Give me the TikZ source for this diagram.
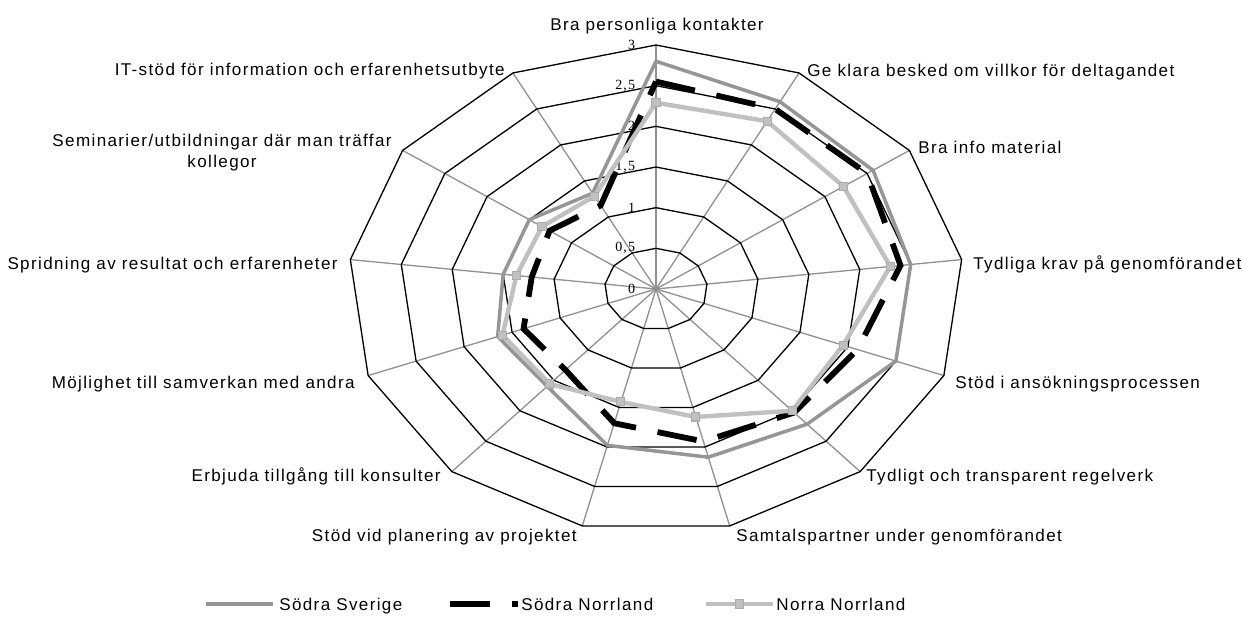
\documentclass[tikz,border=0pt]{standalone}
\usepackage{fontspec}
\setmainfont{Liberation Sans}[LetterSpace=8]
\newfontfamily\ticksfont{Liberation Serif}[LetterSpace=8]
\usetikzlibrary{positioning}
\definecolor{sydgray}{RGB}{150,150,150}
\definecolor{normlight}{RGB}{192,192,192}
\definecolor{spokegray}{RGB}{145,145,145}
\definecolor{markedge}{RGB}{172,172,172}
\tikzset{
  ring/.style={black,line width=0.75pt},
  spoke/.style={spokegray,line width=0.75pt},
  cat/.style={font=\fontsize{9.7}{11.9}\selectfont,inner sep=0pt},
  ticklbl/.style={font=\ticksfont\fontsize{8}{9}\selectfont,inner sep=0pt},
  sv/.style={sydgray,line width=2pt},
  sn/.style={black,line width=3.3pt,dash pattern=on 22.7pt off 12.5pt},
  nn/.style={normlight,line width=2.5pt},
  mk/.style={draw=markedge,fill=normlight,rectangle,minimum size=4.6pt,inner sep=0pt,line width=0.6pt},
}
\begin{document}
\begin{tikzpicture}[x=0.02cm,y=-0.02cm]
  \useasboundingbox (0,0) rectangle (1242,643);

  \begin{scope}[shift={(656,289)},x=2.053cm,y=1.627cm]
    \coordinate (ctr) at (0,0);
    \foreach \k in {0,...,12}
      \coordinate (o\k) at ({90-\k*360/13}:3);
    % grid
    \foreach \k in {0,...,12}
      \draw[spoke] (ctr) -- (o\k);
    \foreach \r in {0.5,1,...,3}
      \draw[ring] (90:\r) \foreach \k in {1,...,12}{ -- ({90-\k*360/13}:\r)} -- cycle;
    \foreach \v/\t [count=\i] in {0/0,0.5/{0,5},1/1,1.5/{1,5},2/2,2.5/{2,5},3/3}
      \node[ticklbl,anchor=east] (t\i) at (-0.2,\v) {\t};

    % Sodra Sverige
    \foreach \v [count=\i from 0] in {2.8,2.6,2.57,2.5,2.5,2.22,2.13,1.98,1.6,1.65,1.5,1.5,1.33}
      \coordinate (s\i) at ({90-\i*360/13}:\v);
    \draw[sv] (s0) \foreach \i in {1,...,12}{ -- (s\i)} -- cycle;

    % Sodra Norrland
    \foreach \v [count=\i from 0] in {2.55,2.5,2.5,2.4,2.1,2.03,1.93,1.7,1.33,1.38,1.22,1.26,1.16}
      \coordinate (b\i) at ({90-\i*360/13}:\v);
    \draw[sn] (b0) \foreach \i in {1,...,12}{ -- (b\i)} -- cycle;

    % Norra Norrland
    \foreach \v [count=\i from 0] in {2.29,2.33,2.22,2.3,1.95,2.0,1.62,1.43,1.56,1.6,1.37,1.35,1.29}
      \coordinate (n\i) at ({90-\i*360/13}:\v);
    \draw[nn] (n0) \foreach \i in {1,...,12}{ -- (n\i)} -- cycle;
    \foreach \i in {0,...,12}
      \node[mk] (m\i) at (n\i) {};
  \end{scope}

  % category labels
  \node[cat,anchor=base] (l0) at (657,30) {Bra personliga kontakter};
  \node[cat,anchor=base west] (l1) at (807,76) {Ge klara besked om villkor för deltagandet};
  \node[cat,anchor=base west] (l2) at (918,153) {Bra info material};
  \node[cat,anchor=base west] (l3) at (973,269) {Tydliga krav på genomförandet};
  \node[cat,anchor=base west] (l4) at (955,388) {Stöd i ansökningsprocessen};
  \node[cat,anchor=base west] (l5) at (866,481) {Tydligt och transparent regelverk};
  \node[cat,anchor=base west] (l6) at (736,541) {Samtalspartner under genomförandet};
  \node[cat,anchor=base east] (l7) at (577,541) {Stöd vid planering av projektet};
  \node[cat,anchor=base east] (l8) at (441,481) {Erbjuda tillgång till konsulter};
  \node[cat,anchor=base east] (l9) at (355,388) {Möjlighet till samverkan med andra};
  \node[cat,anchor=base east] (l10) at (338,269) {Spridning av resultat och erfarenheter};
  \node[cat,anchor=north east,align=center] (l11) at (392,134) {Seminarier/utbildningar där man träffar\\kollegor};
  \node[cat,anchor=base east] (l12) at (505,75) {IT-stöd för information och erfarenhetsutbyte};

  % legend
  \coordinate (k1a) at (206,604);
  \coordinate (k1b) at (273,604);
  \draw[sv] (k1a) -- (k1b);
  \node[cat,anchor=base west] (k1) at (279,610) {Södra Sverige};
  \coordinate (k2a) at (450,604);
  \coordinate (k2b) at (518,604);
  \draw[sn] (k2a) -- (k2b);
  \node[cat,anchor=base west] (k2) at (521,610) {Södra Norrland};
  \coordinate (k3a) at (706,604);
  \coordinate (k3b) at (773,604);
  \draw[nn] (k3a) -- (k3b);
  \node[mk] (k3m) at (739.5,604) {};
  \node[cat,anchor=base west] (k3) at (776,610) {Norra Norrland};
\end{tikzpicture}
\end{document}
